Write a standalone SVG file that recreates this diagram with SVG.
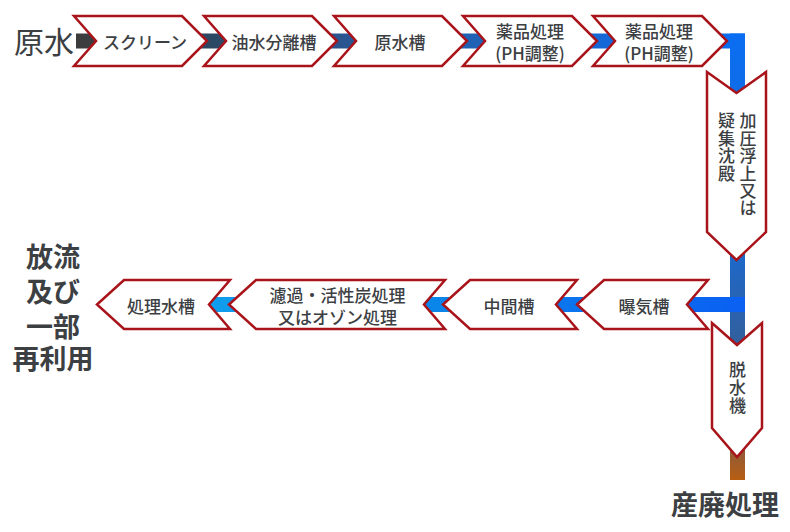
<svg xmlns="http://www.w3.org/2000/svg" width="790" height="532" viewBox="0 0 790 532">
<defs>
<linearGradient id="gTop" gradientUnits="userSpaceOnUse" x1="76" y1="0" x2="745" y2="0">
<stop offset="0" stop-color="#3c3c3c"/>
<stop offset="0.2" stop-color="#2c4862"/>
<stop offset="0.4" stop-color="#2a5590"/>
<stop offset="0.6" stop-color="#1f62b6"/>
<stop offset="0.8" stop-color="#1468d8"/>
<stop offset="1" stop-color="#0a6ef2"/>
</linearGradient>
<linearGradient id="gVert" gradientUnits="userSpaceOnUse" x1="0" y1="34" x2="0" y2="480">
<stop offset="0" stop-color="#0a6ef2"/>
<stop offset="0.5" stop-color="#1e68c8"/>
<stop offset="0.68" stop-color="#3060a0"/>
<stop offset="0.9" stop-color="#7c5a4c"/>
<stop offset="1" stop-color="#b85e12"/>
</linearGradient>
<linearGradient id="gBot" gradientUnits="userSpaceOnUse" x1="745" y1="0" x2="110" y2="0">
<stop offset="0" stop-color="#0a60f2"/>
<stop offset="0.5" stop-color="#0a86ea"/>
<stop offset="1" stop-color="#12a8ee"/>
</linearGradient>
</defs>
<style>
.chev{fill:#ffffff;stroke:#a8141a;stroke-width:2.5;stroke-linejoin:miter}
.lbl{font-family:"Noto Sans CJK JP","Noto Sans",sans-serif;font-size:17px;font-weight:500;fill:#3c4043;text-anchor:middle;dominant-baseline:central}
.vt{font-family:"Noto Sans CJK JP","Noto Sans",sans-serif;font-size:17px;font-weight:500;fill:#3c4043;writing-mode:vertical-rl;text-anchor:start;dominant-baseline:central}
.big{font-family:"Noto Sans CJK JP","Noto Sans",sans-serif;font-size:27px;font-weight:bold;fill:#3c4043;text-anchor:middle;dominant-baseline:central}
</style>
<rect width="790" height="532" fill="#ffffff"/>
<g id="connectors">
<rect x="76" y="33.5" width="669" height="15" fill="url(#gTop)"/>
<rect x="730" y="33.5" width="15" height="446.5" fill="url(#gVert)"/>
<rect x="110" y="297" width="635" height="15" fill="url(#gBot)"/>
</g>
<g id="src"><text class="big" x="44" y="40" style="font-size:30px;font-weight:normal">原水</text></g>
<g id="n1"><path class="chev" d="M74,16 L182,16 L207,41 L182,66 L74,66 L96,41 Z"/><text class="lbl" x="145" y="41.5">スクリーン</text></g>
<g id="n2"><path class="chev" d="M204,16 L312,16 L337,41 L312,66 L204,66 L226,41 Z"/><text class="lbl" x="274" y="41.5">油水分離槽</text></g>
<g id="n3"><path class="chev" d="M334,16 L442,16 L467,41 L442,66 L334,66 L356,41 Z"/><text class="lbl" x="400" y="41.5">原水槽</text></g>
<g id="n4"><path class="chev" d="M463,16 L572,16 L597,41 L572,66 L463,66 L485,41 Z"/><text class="lbl" x="530" y="30">薬品処理</text><text class="lbl" x="530" y="52">(PH調整)</text></g>
<g id="n5"><path class="chev" d="M593,16 L702,16 L727,41 L702,66 L593,66 L615,41 Z"/><text class="lbl" x="659" y="30">薬品処理</text><text class="lbl" x="659" y="52">(PH調整)</text></g>
<g id="n6"><path class="chev" d="M707,72 L736.5,93 L766,72 L766,232 L736.5,260 L707,232 Z"/>
<text class="vt" x="748" y="112.5" style="letter-spacing:0.4px">加圧浮上又は</text>
<text class="vt" x="726.5" y="112.5" style="letter-spacing:0.5px">疑集沈殿</text></g>
<g id="n7"><path class="chev" d="M577,304.5 L604,280 L708,280 L687,304.5 L708,329 L604,329 Z"/><text class="lbl" x="644" y="305">曝気槽</text></g>
<g id="n8"><path class="chev" d="M443,304.5 L470,280 L577,280 L556,304.5 L577,329 L470,329 Z"/><text class="lbl" x="509" y="305">中間槽</text></g>
<g id="n9"><path class="chev" d="M229,304.5 L256,280 L445,280 L424,304.5 L445,329 L256,329 Z"/><text class="lbl" x="337.5" y="294.5">濾過・活性炭処理</text><text class="lbl" x="337.5" y="316.5">又はオゾン処理</text></g>
<g id="n10"><path class="chev" d="M97,304.5 L124,280 L230,280 L209,304.5 L230,329 L124,329 Z"/><text class="lbl" x="161" y="305">処理水槽</text></g>
<g id="n11"><path class="chev" d="M712,323 L737,345 L762,323 L762,428 L737,457 L712,428 Z"/>
<text class="vt" x="737.5" y="361.5" style="letter-spacing:1px">脱水機</text></g>
<g id="out1"><text class="big"><tspan x="53" y="255">放流</tspan><tspan x="53" y="290">及び</tspan><tspan x="53" y="324.5">一部</tspan><tspan x="53" y="357">再利用</tspan></text></g>
<g id="out2"><text class="big" x="725" y="503.5">産廃処理</text></g>
</svg>
